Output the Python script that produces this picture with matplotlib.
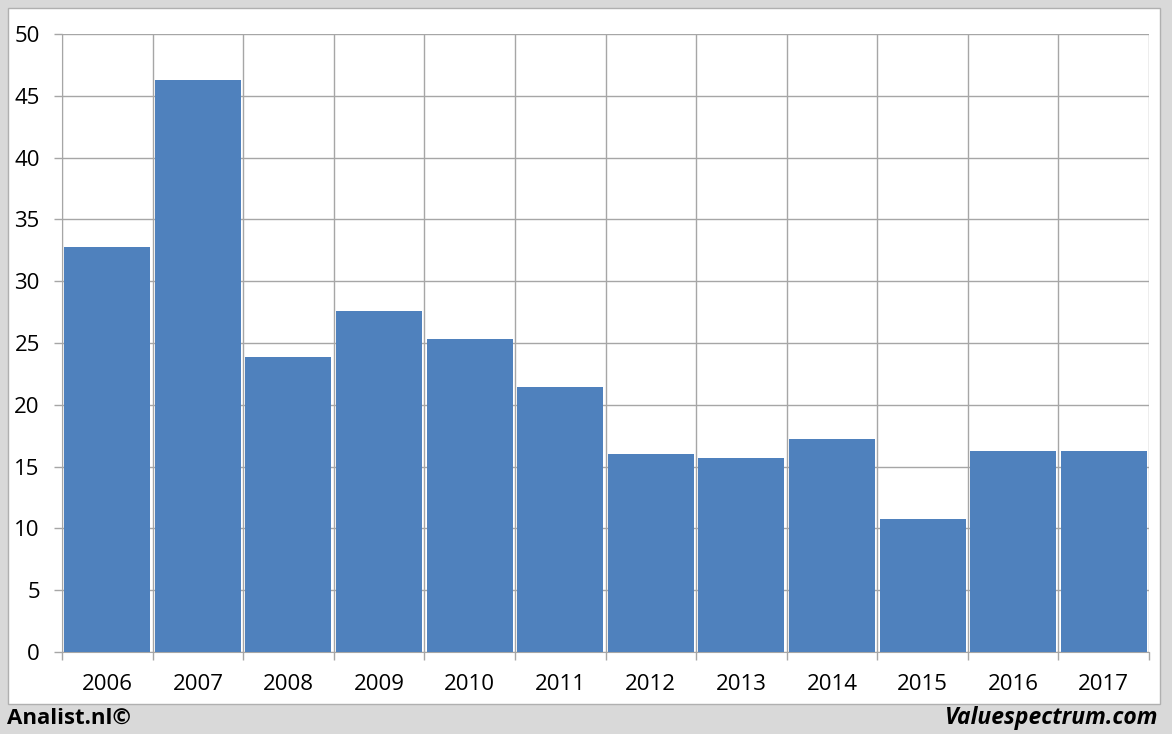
import matplotlib.pyplot as plt
from matplotlib.patches import Rectangle
import numpy as np

# yearly values
years = ['2006', '2007', '2008', '2009', '2010', '2011',
         '2012', '2013', '2014', '2015', '2016', '2017']
values = [32.8, 46.3, 23.9, 27.6, 25.3, 21.4, 16.0, 15.7, 17.2, 10.8, 16.3, 16.3]
y_ticks = [0, 5, 10, 15, 20, 25, 30, 35, 40, 45, 50]

W, H = 1172, 734
fig = plt.figure(figsize=(W / 100, H / 100), dpi=100)
fig.patch.set_facecolor('#d9d9d9')

# white panel behind the chart
fig.patches.append(Rectangle((8 / W, 1 - 704 / H), 1152 / W, 696 / H,
                             transform=fig.transFigure, facecolor='white',
                             edgecolor='#b0b0b0', linewidth=1.0, zorder=0))

ax = fig.add_axes([62 / W, 1 - 652 / H, (1149 - 62) / W, (652 - 34) / H])
ax.set_zorder(2)
ax.set_facecolor('white')

x = np.arange(len(years))
ax.bar(x, values, width=0.95, color='#4f81bd', zorder=3)

ax.set_xlim(-0.5, len(years) - 0.5)
ax.set_ylim(0, 50)
ax.set_yticks(y_ticks)
ax.set_yticklabels([str(t) for t in y_ticks])

# gridlines at category boundaries and y ticks
ax.set_xticks(np.arange(-0.5, len(years), 1.0), minor=False)
ax.set_xticklabels([])
ax.set_xticks(x, minor=True)
ax.set_xticklabels(years, minor=True)
ax.grid(True, which='major', color='#a6a6a6', linewidth=1.0, zorder=0)
ax.set_axisbelow(True)

for s in ['top', 'right']:
    ax.spines[s].set_visible(False)
ax.spines['left'].set_color('#a6a6a6')
ax.spines['bottom'].set_color('#a6a6a6')

font = 'Open Sans'
ax.tick_params(axis='x', which='major', length=6, color='#a6a6a6', width=1.0)
ax.tick_params(axis='x', which='minor', length=0, pad=16, labelsize=16,
               labelcolor='black')
ax.tick_params(axis='y', length=6, color='#a6a6a6', width=1.0, labelsize=16,
               pad=10)
for lab in ax.get_xticklabels(minor=True) + ax.get_yticklabels():
    lab.set_fontfamily(font)

fig.text(7 / W, 1 - 718 / H, 'Analist.nl©', fontsize=16, fontweight='bold',
         family=font, va='center', ha='left')
fig.text(1158 / W, 1 - 718 / H, 'Valuespectrum.com', fontsize=16.5,
         fontweight='bold', style='italic', family=font, va='center', ha='right')

fig.savefig('out.png', dpi=100, facecolor=fig.get_facecolor())
